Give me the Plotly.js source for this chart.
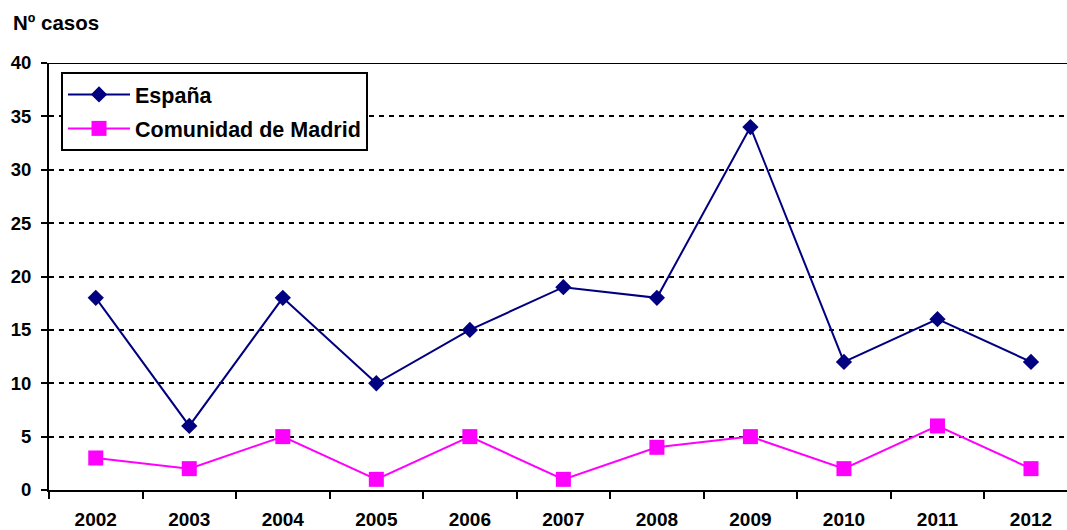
<!DOCTYPE html>
<html><head><meta charset="utf-8">
<script src="https://cdn.plot.ly/plotly-3.0.1.min.js"></script>
<style>html,body{margin:0;padding:0;background:#fff}</style>
</head><body>
<div id="chart" style="width:1067px;height:530px"></div>
<script>
const years = ['2002','2003','2004','2005','2006','2007','2008','2009','2010','2011','2012'];
const espana = [18, 6, 18, 10, 15, 19, 18, 34, 12, 16, 12];
const madrid = [3, 2, 5, 1, 5, 1, 4, 5, 2, 6, 2];
const yTicks = [0, 5, 10, 15, 20, 25, 30, 35, 40];

const fam = 'Liberation Sans, Arial, sans-serif';
const traces = [
  {x: years, y: espana, name: '<b>España</b>', legendgroup: 'a', type: 'scatter', mode: 'lines+markers',
   line: {color: '#000080', width: 2}, marker: {symbol: 'diamond', size: 12.5, color: '#000080'}},
  {x: years, y: madrid, name: '<b>Comunidad de Madrid</b>', legendgroup: 'b', type: 'scatter', mode: 'lines+markers',
   line: {color: '#ff00ff', width: 2}, marker: {symbol: 'square', size: 15, color: '#ff00ff'}}
];
const layout = {
  width: 1067, height: 530,
  margin: {l: 49, r: 0, t: 63, b: 40},
  paper_bgcolor: '#fff', plot_bgcolor: '#fff',
  font: {family: fam, size: 18, color: '#000'},
  showlegend: true,
  legend: {x: 0.0118, y: 0.979, xanchor: 'left', yanchor: 'top', bgcolor: '#fff',
           bordercolor: '#000', borderwidth: 2, font: {family: fam, size: 21.5, color: '#000'},
           tracegroupgap: 3, itemwidth: 62},
  xaxis: {type: 'category', range: [-0.5, 10.385], tickson: 'boundaries', ticks: 'outside',
          ticklen: 7, tickwidth: 2, tickcolor: '#000', showgrid: false, zeroline: false,
          showline: true, linecolor: '#000', linewidth: 2,
          tickfont: {family: fam, size: 19, color: '#000', weight: 'bold'},
          ticklabelstandoff: 11, fixedrange: true},
  yaxis: {range: [0, 40], tickvals: yTicks, ticktext: yTicks.map(String), ticks: 'outside',
          ticklen: 6, tickwidth: 2, tickcolor: '#000',
          showgrid: true, gridcolor: '#000', gridwidth: 2, griddash: '5px,5px',
          zeroline: false, showline: true, linecolor: '#000', linewidth: 2,
          tickfont: {family: fam, size: 18.5, color: '#000', weight: 'bold'},
          ticklabelstandoff: 6, fixedrange: true},
  shapes: [{type: 'line', xref: 'paper', yref: 'y', x0: 0, x1: 1, y0: 40, y1: 40,
            line: {color: '#000', width: 2}}],
  annotations: [{text: '<b>Nº casos</b>', xref: 'paper', yref: 'paper', x: -0.0374, y: 1.096,
                 xanchor: 'left', yanchor: 'middle', showarrow: false,
                 font: {family: fam, size: 20.5, color: '#000'}}]
};
Plotly.newPlot('chart', traces, layout, {displayModeBar: false, staticPlot: true});
</script>
</body></html>
